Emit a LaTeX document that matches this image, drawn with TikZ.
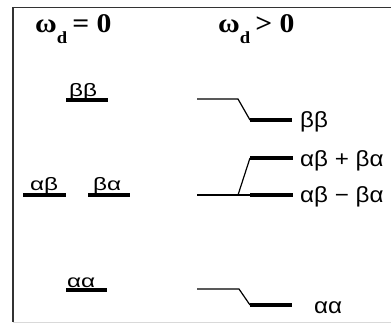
\documentclass[tikz,border=0pt]{standalone}
\usepackage{fontspec}
\setmainfont{Liberation Serif}
\newfontfamily\greekfont{Liberation Sans}
\newcommand\subd{\raisebox{-11pt}{\fontsize{17}{17}\selectfont d}}
\newcommand\widen[2]{\scalebox{#1}[1]{#2}}
\tikzset{
  frameline/.style={line width=1.4pt, black!80},
  level/.style={line width=3.3pt},
  link/.style={line width=1.2pt},
  title/.style={font=\bfseries\fontsize{27}{27}\selectfont, inner sep=0pt, anchor=base west},
  lstate/.style={font=\greekfont\fontsize{18}{18}\selectfont, inner sep=0pt, anchor=base west},
  rstate/.style={font=\greekfont\fontsize{22}{22}\selectfont, inner sep=0pt, anchor=base west}
}
\begin{document}
\begin{tikzpicture}[x=1pt, y=-1pt]
  \useasboundingbox (0,0) rectangle (391,324);
  \draw[frameline] (391,7.5) -- (13,7.5) -- (13,322);
  \draw[black!15] (13,322) -- (391,322);

  \node[title] (zero) at (35,32) {\widen{1.1}{ω\subd\,= 0}};
  \node[title] (pos) at (218,32) {\widen{1.1}{ω\subd\,> 0}};

  % levels, coupling off
  \draw[level] (66, 100) -- (108, 100);
  \draw[level] (23, 195) -- (66, 195);
  \draw[level] (88, 195) -- (130, 195);
  \draw[level] (66, 290) -- (107, 290);

  \node[lstate] (bbL) at (69, 96) {\widen{1.35}{ββ}};
  \node[lstate] (abL) at (30, 190) {\widen{1.35}{αβ}};
  \node[lstate] (baL) at (93, 190) {\widen{1.35}{βα}};
  \node[lstate] (aaL) at (67, 287) {\widen{1.35}{αα}};

  % levels, coupling on
  \coordinate (bbA) at (197, 99);
  \coordinate (bbB) at (238, 99);
  \coordinate (bbC) at (250, 120);
  \coordinate (bbD) at (292, 120);
  \coordinate (mA) at (197, 195);
  \coordinate (mB) at (238, 195);
  \coordinate (mC) at (250, 195);
  \coordinate (mD) at (293, 195);
  \coordinate (pC) at (250, 158);
  \coordinate (pD) at (293, 158);
  \coordinate (aaA) at (197, 289);
  \coordinate (aaB) at (239, 289);
  \coordinate (aaC) at (250, 305);
  \coordinate (aaD) at (292, 305);

  \draw[link] (bbA) -- (bbB) -- (bbC);
  \draw[level] (bbC) -- (bbD);
  \draw[link] (mA) -- (mC);
  \draw[link] (mB) -- (pC);
  \draw[level] (pC) -- (pD);
  \draw[level] (mC) -- (mD);
  \draw[link] (aaA) -- (aaB) -- (aaC);
  \draw[level] (aaC) -- (aaD);

  \node[rstate] (bbR) at (300, 127) {\widen{1.1}{ββ}};
  \node[rstate] (plus) at (300, 166) {\widen{1.1}{αβ + βα}};
  \node[rstate] (minus) at (300, 202) {\widen{1.1}{αβ − βα}};
  \node[rstate] (aaR) at (314, 313) {\widen{1.1}{αα}};
\end{tikzpicture}
\end{document}
